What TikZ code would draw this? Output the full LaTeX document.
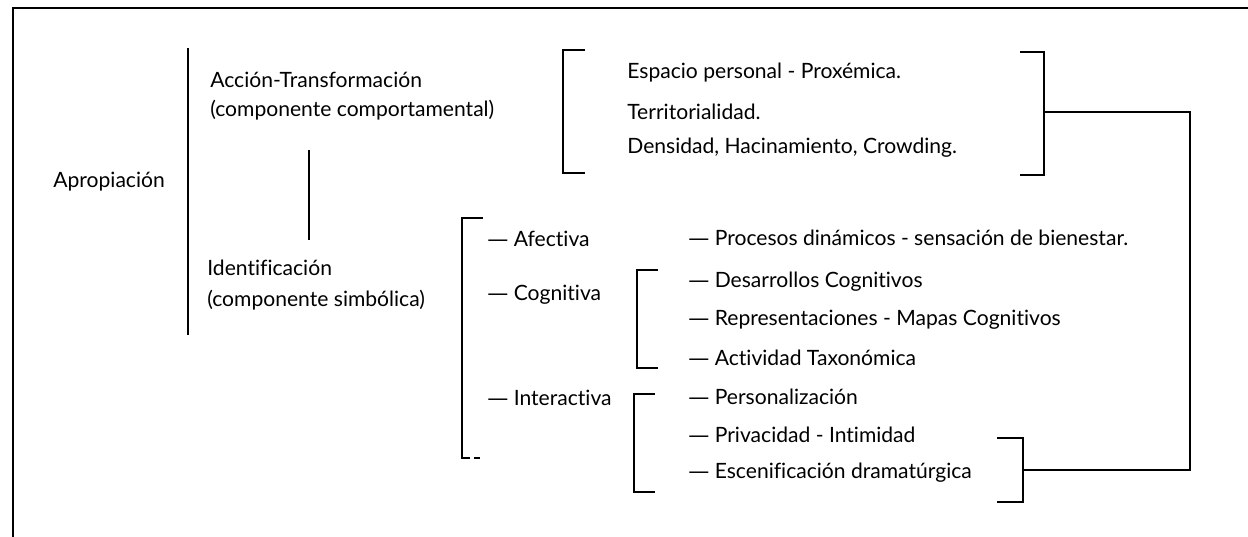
\documentclass[tikz,border=0pt]{standalone}
\usepackage{fontspec}
\setmainfont{Lato}[Ligatures={TeX,NoCommon}]
\newfontfamily\dashfont{DejaVu Sans}
\usepackage{tikz}

\newcommand{\ldash}{{\dashfont —}\ }

\tikzset{
	txt/.style={anchor=west, inner sep=0pt, font=\fontsize{12}{14}\selectfont},
	brk/.style={line width=0.95pt},
}

\begin{document}
\begin{tikzpicture}[x=0.02cm, y=-0.02cm]
	\useasboundingbox (0,0) rectangle (1248,537);
	\draw[line width=1.1pt] (1248,8) -- (13,8) -- (13,537);
	
	\node[txt] (aprop) at (53,182) {Apropiación};
	\draw[brk] (188,48) -- (188,335);
	
	\node[txt] (accion) at (210,80) {Acción-Transformación};
	\node[txt] (comport) at (210,110) {(componente comportamental)};
	\draw[brk] (309,150) -- (309,240);
	\node[txt] (ident) at (207,268) {Identificación};
	\node[txt] (simbol) at (207,300) {(componente simbólica)};
	
	%-------------------------------------
	\draw[brk] (585,50) -- (563,50) -- (563,173) -- (585,173);
	\node[txt] (espacio) at (627,73) {Espacio personal - Proxémica.};
	\node[txt] (territ) at (627,112) {Territorialidad.};
	\node[txt] (densid) at (627,148) {Densidad, Hacinamiento, Crowding.};
	\draw[brk] (1020,52) -- (1044,52) -- (1044,175) -- (1020,175);
	
	%-------------------------------------
	\draw[brk] (483,218) -- (462,218) -- (462,458) -- (470,458);
	\draw[brk] (474,458) -- (480,458);
	\node[txt] (afect) at (487,239) {\ldash Afectiva};
	\node[txt] (cognit) at (487,295) {\ldash Cognitiva};
	\node[txt] (interac) at (487,398) {\ldash Interactiva};
	
	\draw[brk] (658,270) -- (637,270) -- (637,368) -- (658,368);
	\draw[brk] (655,394) -- (634,394) -- (634,492) -- (655,492);
	
	\node[txt] (procesos) at (688,238) {\ldash Procesos dinámicos - sensación de bienestar.};
	\node[txt] (desarr) at (688,282) {\ldash Desarrollos Cognitivos};
	\node[txt] (repres) at (688,320) {\ldash Representaciones - Mapas Cognitivos};
	\node[txt] (activ) at (688,358) {\ldash Actividad Taxonómica};
	\node[txt] (person) at (688,397) {\ldash Personalización};
	\node[txt] (privac) at (688,435) {\ldash Privacidad - Intimidad};
	\node[txt] (escen) at (688,473) {\ldash Escenificación dramatúrgica};
	
	\draw[brk] (997,438) -- (1023,438) -- (1023,502) -- (997,502);
	
	%-------------------------------------
	\coordinate (rtop) at (1044,112);
	\coordinate (rbot) at (1023,470);
	\draw[brk] (rtop) -- ++(146,0) |- (rbot);
	
\end{tikzpicture}
\end{document}
